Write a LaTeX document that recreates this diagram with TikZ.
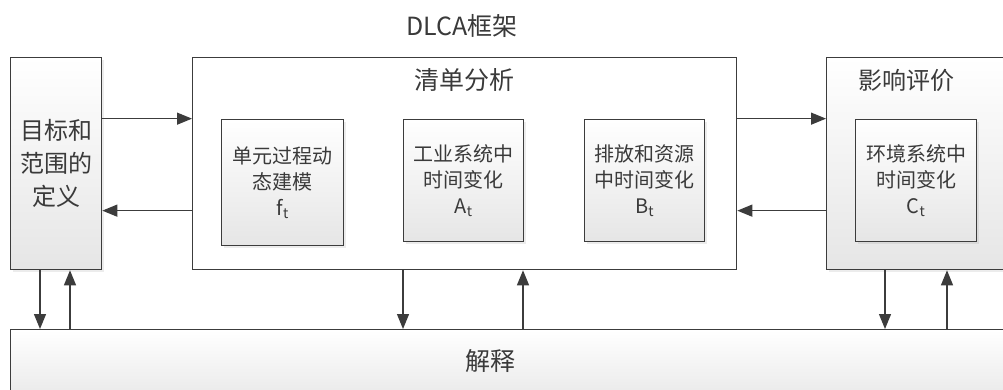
\documentclass[tikz,border=0pt]{standalone}
\usepackage{fontspec}
\setmainfont{Noto Sans CJK SC}
\usetikzlibrary{arrows.meta,shadows}
\definecolor{lc}{HTML}{3C3C3C}
\definecolor{tc}{HTML}{3A3A3A}
\begin{document}
\begin{tikzpicture}[x=1pt,y=-1pt,
  box/.style={draw=lc,line width=1.3pt,rectangle,inner sep=0pt,anchor=north west,
    top color=white,bottom color=black!10,text=tc,align=center,
    drop shadow={opacity=0.15,shadow xshift=2pt,shadow yshift=-2pt}},
  wbox/.style={draw=lc,line width=1.3pt,rectangle,inner sep=0pt,anchor=north west,fill=white},
  inbox/.style={box,font=\fontsize{20}{26}\selectfont},
  lbl/.style={text=tc,inner sep=0pt},
  arr/.style={draw=lc,line width=1.2pt,-{Triangle[length=15pt,width=12pt]}}]
\useasboundingbox (0,0) rectangle (1003,390);
\fill[white] (0,0) rectangle (1003,390);
\begin{scope}
\clip (0,0) rectangle (1003,390);
\node[lbl,font=\fontsize{25}{28}\selectfont] (title) at (462,26) {DLCA框架};
\node[box,minimum width=91pt,minimum height=212pt,font=\fontsize{24}{33}\selectfont] (lft) at (10,57) {目标和\\范围的\\定义};
\node[wbox,minimum width=544pt,minimum height=212pt] (mid) at (192,57) {};
\node[lbl,font=\fontsize{25}{28}\selectfont] (midt) at (464,80) {清单分析};
\node[box,minimum width=200pt,minimum height=212pt] (rgt) at (826,57) {};
\node[lbl,font=\fontsize{24}{28}\selectfont] (rgtt) at (906,80) {影响评价};
\node[inbox,minimum width=122pt,minimum height=126pt] (f) at (221,119) {单元过程动\\态建模\\f\textsubscript{t}};
\node[inbox,minimum width=120pt,minimum height=122pt] (A) at (403,119) {工业系统中\\时间变化\\A\textsubscript{t}};
\node[inbox,minimum width=120pt,minimum height=122pt] (B) at (584,119) {排放和资源\\中时间变化\\B\textsubscript{t}};
\node[inbox,minimum width=121pt,minimum height=122pt] (C) at (855,119) {环境系统中\\时间变化\\C\textsubscript{t}};
\node[box,minimum width=1020pt,minimum height=80pt] (bot) at (10,329) {};
\node[lbl,font=\fontsize{25}{28}\selectfont] (bott) at (490,361) {解释};
% horizontal arrows
\draw[arr] ([yshift=45pt]lft.east) -- ([yshift=45pt]mid.west);
\draw[arr] ([yshift=-47pt]mid.west) -- ([yshift=-47pt]lft.east);
\draw[arr] ([yshift=45pt]mid.east) -- ([yshift=45pt]rgt.west);
\draw[arr] ([yshift=-47pt]rgt.west) -- ([yshift=-47pt]mid.east);
% vertical arrows
\draw[arr] ([xshift=30pt]lft.south west) -- ([xshift=30pt]lft.south west |- bot.north);
\draw[arr] ([xshift=60pt]lft.south west |- bot.north) -- ([xshift=60pt]lft.south west);
\draw[arr] ([xshift=211pt]mid.south west) -- ([xshift=211pt]mid.south west |- bot.north);
\draw[arr] ([xshift=331pt]mid.south west |- bot.north) -- ([xshift=331pt]mid.south west);
\draw[arr] ([xshift=59pt]rgt.south west) -- ([xshift=59pt]rgt.south west |- bot.north);
\draw[arr] ([xshift=121pt]rgt.south west |- bot.north) -- ([xshift=121pt]rgt.south west);
\end{scope}
\end{tikzpicture}
\end{document}
